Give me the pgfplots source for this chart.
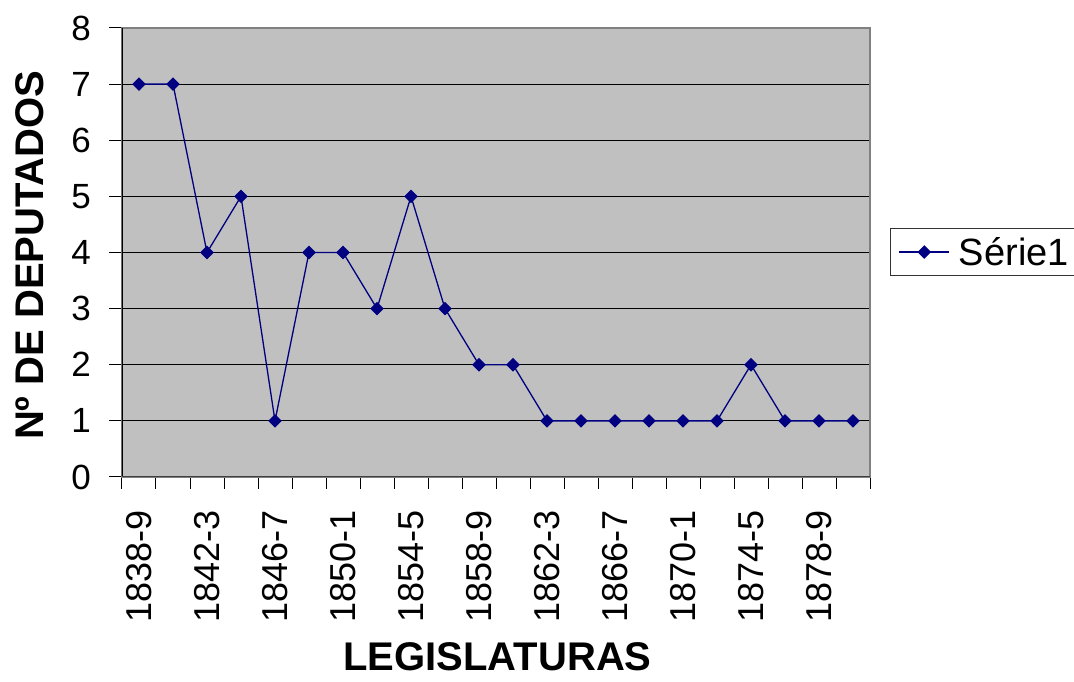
\documentclass[border=0pt]{standalone}
\usepackage{pgfplots}
\pgfplotsset{compat=1.18}
\usepackage{fontspec}
\setmainfont{Liberation Sans}
\definecolor{plotbg}{HTML}{C0C0C0}
\definecolor{navyc}{HTML}{000080}
\definecolor{framec}{HTML}{808080}
\begin{document}
\begin{tikzpicture}[x=1pt,y=1pt]
\useasboundingbox (0,0) rectangle (1074,682);
\begin{axis}[
 at={(122pt,205pt)}, anchor=south west,
 scale only axis, width=748pt, height=449pt,
 xmin=-0.5, xmax=21.5, ymin=0, ymax=8,
 axis background/.style={fill=plotbg},
 axis line style={draw=framec, line width=1.5pt},
 tick align=outside,
 xtick pos=bottom, ytick pos=left,
 major tick length=13pt, minor tick length=12pt,
 tick style={black, line width=1pt},
 xtick={0,2,...,20},
 xticklabels={1838-9,1842-3,1846-7,1850-1,1854-5,1858-9,1862-3,1866-7,1870-1,1874-5,1878-9},
 minor xtick={-0.5,0.5,...,21.5},
 major x tick style={draw=none},
 ytick={0,...,8},
 ymajorgrids, major grid style={black, line width=0.8pt},
 /pgf/number format/assume math mode=true,
 yticklabel style={font=\fontsize{35}{40}\selectfont, anchor=east, inner sep=0pt},
 xticklabel style={font=\fontsize{36}{40}\selectfont, rotate=90, anchor=east, inner sep=0pt},
 xticklabel shift=20pt,
 yticklabel shift=18pt,
 xlabel={LEGISLATURAS},
 xlabel style={at={(axis description cs:0.502,-0.431)}, anchor=base, inner sep=0pt, font=\bfseries\fontsize{40}{44}\selectfont},
 ylabel={Nº DE DEPUTADOS},
 ylabel style={at={(axis description cs:-0.1056,0.494)}, anchor=base, inner sep=0pt, font=\bfseries\fontsize{40}{44}\selectfont},
 legend style={at={(axis description cs:1.027,0.501)}, anchor=west, draw=black!80, line width=1pt, fill=white,
   font=\fontsize{38}{44}\selectfont, inner xsep=8pt, inner ysep=5pt, nodes={inner sep=4pt}, column sep=5pt},
 legend image code/.code={\draw[mark repeat=2,mark phase=2] plot coordinates {(0pt,0pt)(25pt,0pt)(50pt,0pt)};},
]
\addplot[navyc, line width=1.3pt, mark=square*, mark size=4.2pt, mark options={fill=navyc, draw=navyc, solid, rotate=45}] coordinates {
(0,7)(1,7)(2,4)(3,5)(4,1)(5,4)(6,4)(7,3)(8,5)(9,3)(10,2)(11,2)(12,1)(13,1)(14,1)(15,1)(16,1)(17,1)(18,2)(19,1)(20,1)(21,1)
};
\addlegendentry{Série1}
\draw[black, line width=1.5pt] (rel axis cs:0,0) -- (rel axis cs:0,1);
\draw[black!75, line width=1.5pt] (rel axis cs:0,0) -- (rel axis cs:1,0);
\end{axis}
\end{tikzpicture}
\end{document}
